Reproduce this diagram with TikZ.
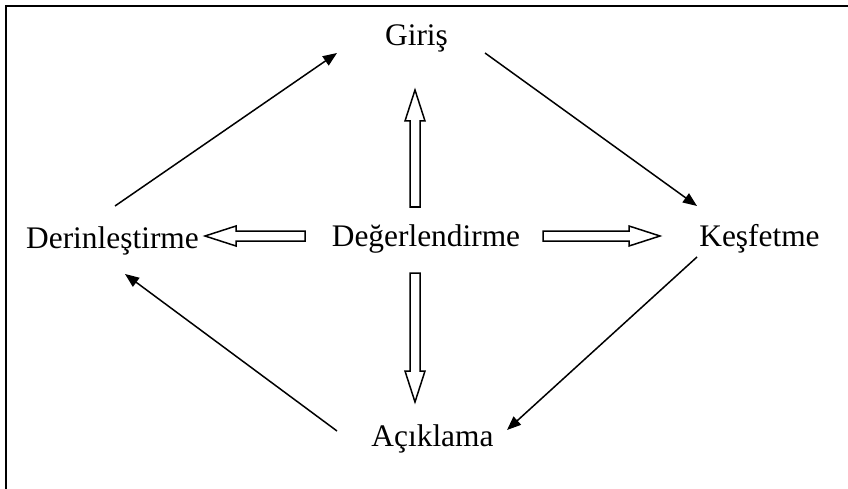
\documentclass[tikz,border=0pt]{standalone}
\usepackage{fontspec}
\setmainfont{Liberation Serif}
\usepackage{tikz}
\usetikzlibrary{arrows.meta, calc}
\tikzset{
  lbl/.style={inner sep=0pt, anchor=base, font=\fontsize{31.4}{36}\selectfont},
  arrow/.style={-{Triangle[length=14pt, width=11pt]}, line width=1.5pt, color=black},
  hollow/.style={draw=black, fill=white, line width=1.5pt, line join=miter},
  frame/.style={line width=2pt, color=black}
}
\newcommand{\blockarrow}[3]{%
  \draw[hollow, shift={(#1)}, rotate=#2]
    (0,-5) -- (#3-31,-5) -- (#3-31,-10) -- (#3,0) -- (#3-31,10) -- (#3-31,5) -- (0,5) -- cycle;}

\begin{document}
\begin{tikzpicture}[x=1pt, y=1pt]
  \useasboundingbox (0,0) rectangle (848,488);
  \clip (0,0) rectangle (848,488);
  \draw[frame] (5.5,-10) |- (860,482.3);

  \node[lbl] (giris) at (416.5,442) {Giriş};
  \node[lbl] (deg) at (426,241.3) {Değerlendirme};
  \node[lbl] (derin) at (112.5,240) {Derinleştirme};
  \node[lbl] (kesf) at (759.5,241.3) {Keşfetme};
  \node[lbl] (acik) at (432.5,41.3) {Açıklama};

  \draw[arrow] ([xshift=2.5pt,yshift=42pt]derin.base) -- ([xshift=-79.5pt,yshift=-7pt]giris.base);
  \draw[arrow] ([xshift=68.5pt,yshift=-7pt]giris.base) -- ([xshift=-62.5pt,yshift=40.7pt]kesf.base);
  \draw[arrow] ([xshift=-62.5pt,yshift=-10.3pt]kesf.base) -- ([xshift=74.5pt,yshift=16.7pt]acik.base);
  \draw[arrow] ([xshift=-95.5pt,yshift=15.7pt]acik.base) -- ([xshift=12.5pt,yshift=-26pt]derin.base);

  \blockarrow{[xshift=-11pt,yshift=39.7pt]deg.base}{90}{117}
  \blockarrow{[xshift=-11pt,yshift=-26.3pt]deg.base}{-90}{129}
  \blockarrow{[xshift=-121pt,yshift=10.7pt]deg.base}{180}{100}
  \blockarrow{[xshift=117pt,yshift=10.7pt]deg.base}{0}{117}

\end{tikzpicture}
\end{document}
